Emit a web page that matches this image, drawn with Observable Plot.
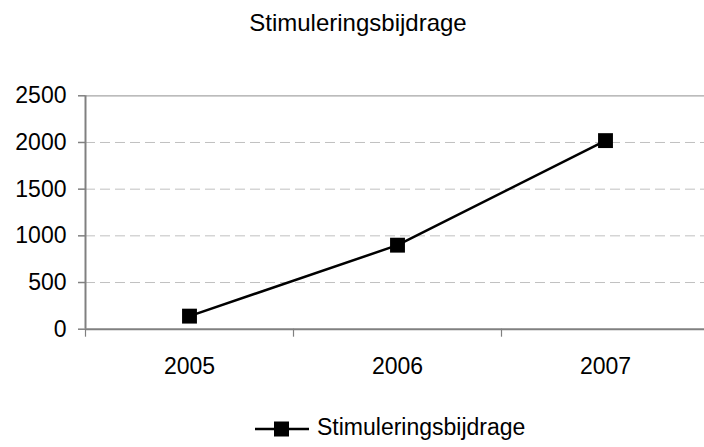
<!DOCTYPE html>
<html>
<head>
<meta charset="utf-8">
<script src="https://cdn.jsdelivr.net/npm/d3@7"></script>
<script src="https://cdn.jsdelivr.net/npm/@observablehq/plot@0.6"></script>
<style>
  html, body { margin: 0; padding: 0; background: #fff; }
  #page { position: relative; width: 704px; height: 447px; overflow: hidden; font-family: "Liberation Sans", Arial, sans-serif; color: #000; }
  #title { position: absolute; left: 0; top: 0; width: 704px; height: 60px; box-sizing: border-box; padding-top: 9px; padding-left: 12px; text-align: center; font-size: 24px; line-height: 28px; }
  #chart { position: absolute; left: 0; top: 60px; }
  #legend { position: absolute; left: 255px; top: 413px; font-size: 23px; line-height: 28px; white-space: nowrap; }
  #legend svg { vertical-align: middle; margin-right: 8px; }
</style>
</head>
<body>
<div id="page">
  <div id="title">Stimuleringsbijdrage</div>
  <div id="chart"></div>
  <div id="legend"></div>
</div>
<script>
const seriesName = "Stimuleringsbijdrage";
const years = [2005, 2006, 2007];
const values = [140, 900, 2020];
const yTicks = [0, 500, 1000, 1500, 2000, 2500];

const data = years.map((y, i) => ({year: y, value: values[i]}));
const boundaries = years.map(y => y - 0.5);
const font = "Liberation Sans, Arial, sans-serif";

const chart = Plot.plot({
  width: 704,
  height: 330,
  marginLeft: 85,
  marginRight: 0,
  marginTop: 35.3,
  marginBottom: 61.3,
  style: {fontFamily: font, fontSize: "23px", color: "#000", background: "#fff", overflow: "visible"},
  x: {type: "linear", domain: [years[0] - 0.5, years[years.length - 1] + 0.5], range: [85, 709]},
  y: {domain: [yTicks[0], yTicks[yTicks.length - 1]]},
  marks: [
    Plot.ruleY(yTicks.slice(1, -1), {stroke: "#c0c0c0", strokeWidth: 1, strokeDasharray: "10,5"}),
    Plot.ruleY([yTicks[yTicks.length - 1]], {stroke: "#a6a6a6", strokeWidth: 1.2}),
    Plot.ruleX([boundaries[0]], {y1: yTicks[0], y2: yTicks[yTicks.length - 1], stroke: "#808080", strokeWidth: 2}),
    Plot.ruleY([0], {stroke: "#808080", strokeWidth: 2}),
    Plot.axisY({ticks: yTicks, tickSize: 7, tickPadding: 12, stroke: "#808080", strokeWidth: 1.5, fill: "#000", label: null, tickFormat: d => String(d)}),
    Plot.axisX({ticks: boundaries, tickSize: 8, stroke: "#808080", strokeWidth: 1.2, tickFormat: () => "", label: null}),
    Plot.axisX({ticks: years, tickSize: 0, tickPadding: 28, fill: "#000", tickFormat: d => String(d), label: null}),
    Plot.line(data, {x: "year", y: "value", stroke: "#000", strokeWidth: 2.5}),
    Plot.dot(data, {x: "year", y: "value", symbol: "square", r: 8.4, fill: "#000", stroke: "none"})
  ]
});
document.getElementById("chart").appendChild(chart);

document.getElementById("legend").innerHTML =
  '<svg width="54" height="16" viewBox="0 0 54 16">' +
  '<line x1="0" y1="8" x2="54" y2="8" stroke="#000" stroke-width="2.5"/>' +
  '<rect x="19" y="0.5" width="15" height="15" fill="#000"/></svg>' +
  '<span>' + seriesName + '</span>';
</script>
</body>
</html>
